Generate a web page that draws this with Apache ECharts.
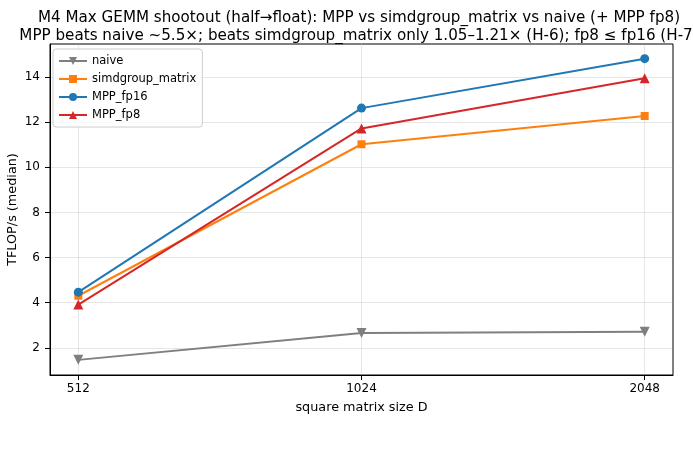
<!DOCTYPE html>
<html><head><meta charset="utf-8">
<script src="https://cdn.jsdelivr.net/npm/echarts@6/dist/echarts.min.js"></script>
<style>html,body{margin:0;padding:0;background:#fff}#c{width:693px;height:452px}</style>
</head><body><div id="c"></div>
<script>
const sizes = ['512', '1024', '2048'];
const naive = [1.47, 2.66, 2.72];
const simdgroup = [4.31, 11.02, 12.27];
const mppFp16 = [4.47, 12.62, 14.81];
const mppFp8 = [3.92, 11.72, 13.94];
const yTicks = [2, 4, 6, 8, 10, 12, 14];
const titleLines = ['M4 Max GEMM shootout (half\u2192float): MPP vs simdgroup_matrix vs naive (+ MPP fp8)',
  'MPP beats naive ~5.5\u00d7; beats simdgroup_matrix only 1.05\u20131.21\u00d7 (H-6); fp8 \u2264 fp16 (H-7)'];

const font = 'DejaVu Sans';
const idx = sizes.map((_, i) => i);
function pts(arr) { return arr.map((v, i) => [i, v]); }
function mk(name, data, color, symbol, rot) {
  return { name, type: 'line', data: pts(data), symbol, symbolSize: symbol === 'circle' ? 9 : (symbol === 'rect' ? 8 : 10),
    symbolRotate: rot || 0, lineStyle: { color, width: 2 }, itemStyle: { color }, color,
    showSymbol: true, animation: false, z: 3, emphasis: { disabled: true } };
}
const chart = echarts.init(document.getElementById('c'));
chart.setOption({
  animation: false,
  textStyle: { fontFamily: font },
  title: [
    { text: titleLines[0], left: 354, top: 6, textAlign: 'center', textStyle: { fontFamily: font, fontSize: 15.15, fontWeight: 'normal', color: '#000' } },
    { text: titleLines[1], left: 354, top: 24, textAlign: 'center', textStyle: { fontFamily: font, fontSize: 15.15, fontWeight: 'normal', color: '#000' } }
  ],
  legend: {
    orient: 'vertical', left: 53, top: 49, padding: [5, 6, 5, 5], itemGap: 4,
    backgroundColor: 'rgba(255,255,255,0.8)', borderColor: '#cccccc', borderWidth: 1, borderRadius: 3,
    itemWidth: 28, itemHeight: 10,
    textStyle: { fontFamily: font, fontSize: 11.5, color: '#000', lineHeight: 14 },
    data: ['naive', 'simdgroup_matrix', 'MPP_fp16', 'MPP_fp8']
  },
  grid: { left: 50, right: 20, top: 44, bottom: 77, show: true, borderColor: '#000', borderWidth: 1,
    backgroundColor: 'transparent', outerBoundsMode: 'none', containLabel: false },
  xAxis: {
    type: 'value', min: -0.1, max: 2.1,
    name: 'square matrix size D', nameLocation: 'middle', nameGap: 26, nameMoveOverlap: false,
    nameTextStyle: { fontFamily: font, fontSize: 12.8, color: '#000' },
    axisLine: { show: true, onZero: false, lineStyle: { color: '#000', width: 1 } },
    axisTick: { show: true, length: 5, lineStyle: { color: '#000', width: 1 }, customValues: idx },
    axisLabel: { customValues: idx, formatter: v => sizes[Math.round(v)], fontFamily: font, fontSize: 12, color: '#000', margin: 8 },
    splitLine: { show: true, lineStyle: { color: 'rgba(176,176,176,0.3)', width: 1 }, customValues: idx }
  },
  yAxis: {
    type: 'value', min: 0.8, max: 15.46,
    name: 'TFLOP/s (median)', nameLocation: 'middle', nameGap: 31, nameMoveOverlap: false,
    nameTextStyle: { fontFamily: font, fontSize: 12.8, color: '#000' },
    axisLine: { show: true, onZero: false, lineStyle: { color: '#000', width: 1 } },
    axisTick: { show: true, length: 5, lineStyle: { color: '#000', width: 1 }, customValues: yTicks },
    axisLabel: { customValues: yTicks, fontFamily: font, fontSize: 12, color: '#000', margin: 10 },
    splitLine: { show: true, lineStyle: { color: 'rgba(176,176,176,0.3)', width: 1 }, customValues: yTicks }
  },
  series: [
    mk('naive', naive, '#7f7f7f', 'triangle', 180),
    mk('simdgroup_matrix', simdgroup, '#ff7f0e', 'rect'),
    mk('MPP_fp16', mppFp16, '#1f77b4', 'circle'),
    mk('MPP_fp8', mppFp8, '#d62728', 'triangle')
  ]
});
</script></body></html>
